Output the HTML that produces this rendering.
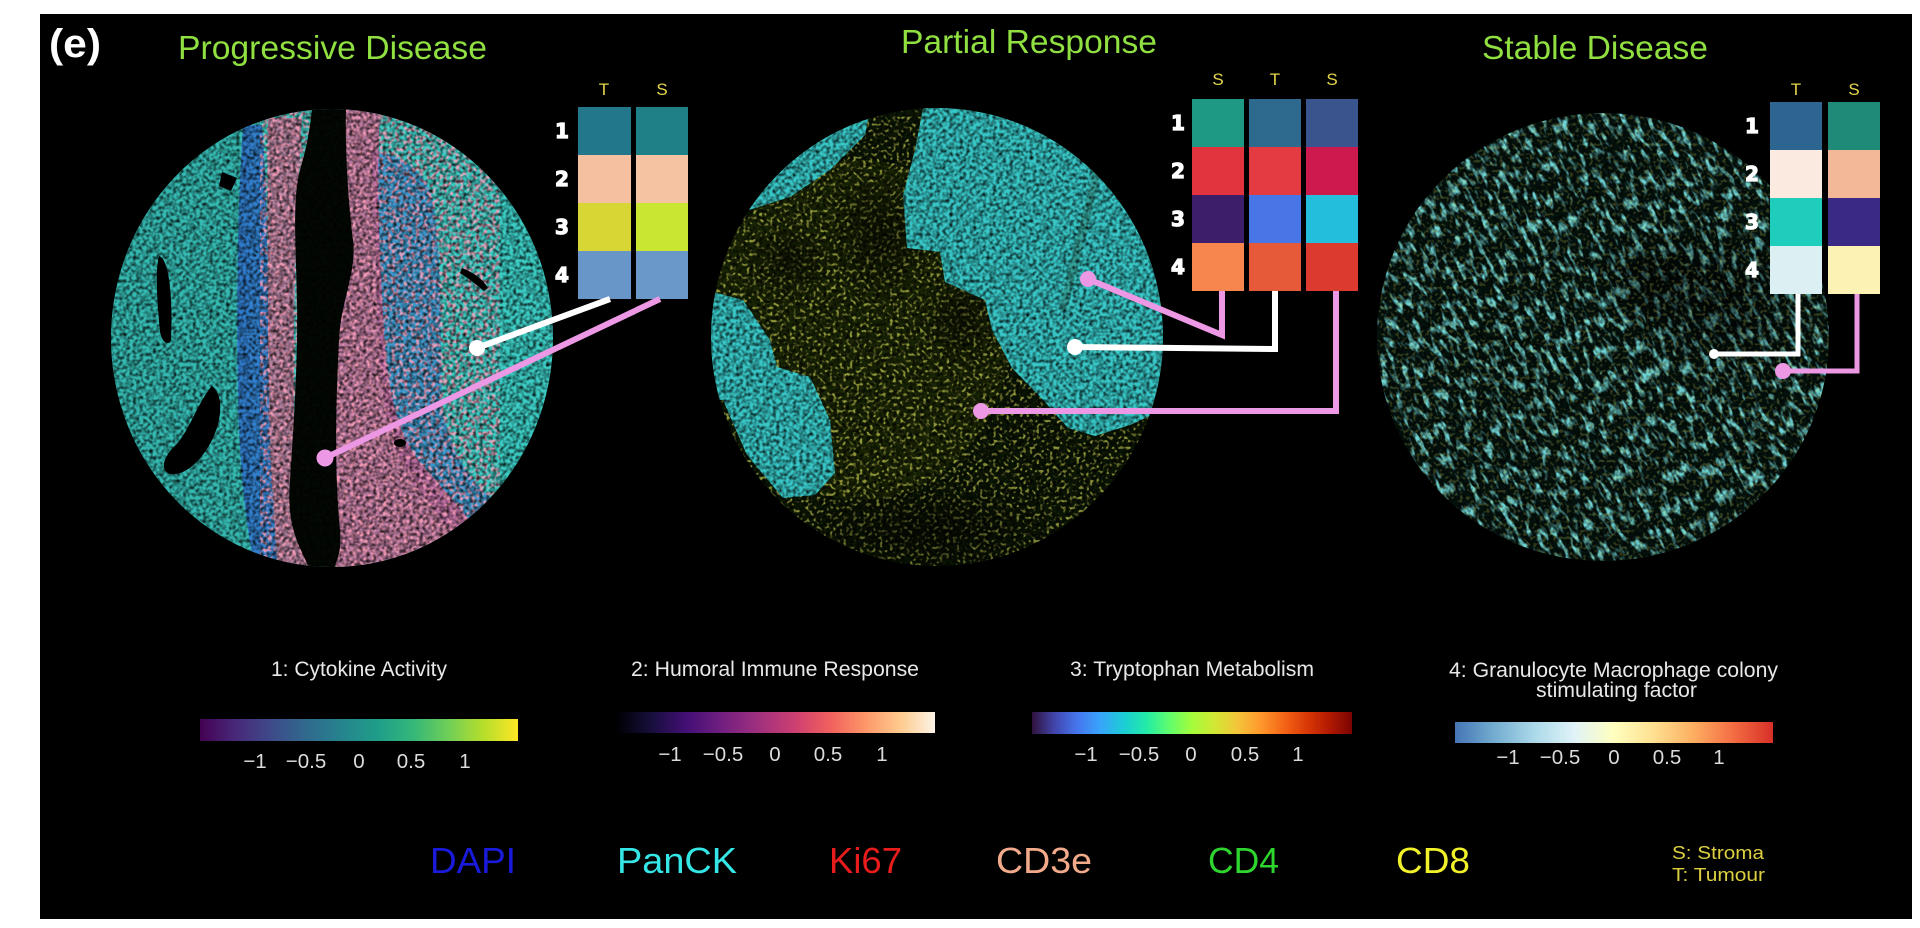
<!DOCTYPE html>
<html><head><meta charset="utf-8">
<style>
html,body{margin:0;padding:0;background:#fff;}
svg{display:block;}
text{font-family:"Liberation Sans",Arial,sans-serif;}
</style></head>
<body>
<svg width="1920" height="928" viewBox="0 0 1920 928" xmlns="http://www.w3.org/2000/svg">
<defs>
  <linearGradient id="viridis" x1="0" x2="1" y1="0" y2="0">
    <stop offset="0" stop-color="#440154"/><stop offset="0.11" stop-color="#482878"/>
    <stop offset="0.22" stop-color="#3e4989"/><stop offset="0.33" stop-color="#31688e"/>
    <stop offset="0.44" stop-color="#26828e"/><stop offset="0.56" stop-color="#1f9e89"/>
    <stop offset="0.67" stop-color="#35b779"/><stop offset="0.78" stop-color="#6ece58"/>
    <stop offset="0.89" stop-color="#b5de2b"/><stop offset="1" stop-color="#fde725"/>
  </linearGradient>
  <linearGradient id="magma" x1="0" x2="1" y1="0" y2="0">
    <stop offset="0" stop-color="#000004"/><stop offset="0.11" stop-color="#180f3d"/>
    <stop offset="0.22" stop-color="#440f76"/><stop offset="0.33" stop-color="#721f81"/>
    <stop offset="0.44" stop-color="#9e2f7f"/><stop offset="0.56" stop-color="#cd4071"/>
    <stop offset="0.67" stop-color="#f1605d"/><stop offset="0.78" stop-color="#fd9668"/>
    <stop offset="0.89" stop-color="#feca8d"/><stop offset="1" stop-color="#fcf3e6"/>
  </linearGradient>
  <linearGradient id="turbo" x1="0" x2="1" y1="0" y2="0">
    <stop offset="0" stop-color="#30123b"/><stop offset="0.07" stop-color="#4145ab"/>
    <stop offset="0.14" stop-color="#4675ed"/><stop offset="0.21" stop-color="#39a2fc"/>
    <stop offset="0.29" stop-color="#1bcfd4"/><stop offset="0.36" stop-color="#24eca6"/>
    <stop offset="0.43" stop-color="#61fc6c"/><stop offset="0.5" stop-color="#a4fc3b"/>
    <stop offset="0.57" stop-color="#d1e834"/><stop offset="0.64" stop-color="#f3c63a"/>
    <stop offset="0.71" stop-color="#fe9b2d"/><stop offset="0.79" stop-color="#f36315"/>
    <stop offset="0.86" stop-color="#d93806"/><stop offset="0.93" stop-color="#b11901"/>
    <stop offset="1" stop-color="#7a0403"/>
  </linearGradient>
  <linearGradient id="rdylbu" x1="0" x2="1" y1="0" y2="0">
    <stop offset="0" stop-color="#4575b4"/><stop offset="0.125" stop-color="#74add1"/>
    <stop offset="0.25" stop-color="#abd9e9"/><stop offset="0.375" stop-color="#e0f3f8"/>
    <stop offset="0.5" stop-color="#ffffbf"/><stop offset="0.625" stop-color="#fee090"/>
    <stop offset="0.75" stop-color="#fdae61"/><stop offset="0.875" stop-color="#f46d43"/>
    <stop offset="1" stop-color="#d73027"/>
  </linearGradient>

  <clipPath id="c1"><ellipse cx="332" cy="338" rx="221" ry="229"/></clipPath>
  <clipPath id="c2"><ellipse cx="937" cy="337" rx="226" ry="229"/></clipPath>
  <clipPath id="c3"><ellipse cx="1603" cy="337" rx="226" ry="224"/></clipPath>

  <filter id="grain" x="0" y="0" width="1" height="1">
    <feTurbulence type="fractalNoise" baseFrequency="0.3" numOctaves="2" seed="2"/>
    <feGaussianBlur stdDeviation="0.6"/>
    <feColorMatrix type="matrix" values="0 0 0 0 0  0 0 0 0 0  0 0 0 0 0  2.2 0 0 0 -0.85"/>
  </filter>
  <filter id="speckY" x="0" y="0" width="1" height="1">
    <feTurbulence type="fractalNoise" baseFrequency="0.3" numOctaves="1" seed="5"/>
    <feColorMatrix type="matrix" values="0 0 0 0 0.80  0 0 0 0 0.82  0 0 0 0 0.12  8 0 0 0 -4.3"/>
  </filter>
  <filter id="speckP" x="0" y="0" width="1" height="1">
    <feTurbulence type="fractalNoise" baseFrequency="0.25" numOctaves="1" seed="9"/>
    <feColorMatrix type="matrix" values="0 0 0 0 1.0  0 0 0 0 0.35  0 0 0 0 0.5  7 0 0 0 -3.3"/>
  </filter>
  <filter id="strand" x="0" y="0" width="1" height="1">
    <feTurbulence type="fractalNoise" baseFrequency="0.18 0.07" numOctaves="2" seed="11"/>
    <feColorMatrix type="matrix" values="0 0 0 0 0.16  0 0 0 0 0.66  0 0 0 0 0.66  5 0 0 0 -2.5"/>
  </filter>
  <radialGradient id="darkspot">
    <stop offset="0" stop-color="#000" stop-opacity="0.55"/>
    <stop offset="1" stop-color="#000" stop-opacity="0"/>
  </radialGradient>
</defs>

<!-- black panel -->
<rect x="40" y="14" width="1872" height="905" fill="#000"/>

<!-- ============ Tissue 1: Progressive Disease ============ -->
<g clip-path="url(#c1)">
  <rect x="100" y="100" width="470" height="480" fill="#3cccc4"/>
  <rect x="100" y="100" width="150" height="480" fill="#2ea8a0" opacity="0.5"/>
  <path d="M243,125 C238,200 236,300 238,400 C240,470 245,520 255,570 L278,570 C272,500 268,420 268,330 C268,240 266,170 262,125 Z" fill="#2d5fd2" opacity="0.7"/>
  <path d="M268,118 L302,118 C297,200 293,300 294,400 C295,470 300,520 312,570 L278,570 C272,500 268,420 268,330 C268,240 267,170 268,118 Z" fill="#d8608a" opacity="0.72"/>
  <path d="M372,150 C400,155 428,170 434,205 C442,265 440,330 442,400 C447,450 472,485 500,505 L480,560 C440,520 405,480 392,440 C380,400 378,330 376,260 Z" fill="#3a58d6" opacity="0.45"/>
  <path d="M345,108 L380,112 C376,200 380,260 384,330 C388,400 400,440 425,468 C445,490 470,520 485,540 L420,575 L336,575 C334,500 334,420 336,340 C338,300 356,270 352,240 C348,200 345,150 345,108 Z" fill="#e05c90" opacity="0.75"/>
  <rect x="260" y="110" width="240" height="470" filter="url(#speckP)" opacity="0.8"/>
  <path d="M312,108 L346,108 C345,150 348,200 353,240 C357,272 341,300 339,340 C336,400 334,470 340,530 C342,552 336,566 330,575 L312,575 C300,545 286,530 290,480 C294,420 298,360 297,300 C296,250 292,200 300,170 C306,150 310,130 312,108 Z" fill="#030803"/>
  <path d="M159,256 C168,258 173,290 171,340 C169,346 162,343 160,332 C157,300 155,270 159,256 Z" fill="#000"/>
  <path d="M212,386 C224,395 222,420 212,440 C202,460 186,476 170,474 C159,470 164,456 175,446 C190,430 199,400 212,386 Z" fill="#000"/>
  <path d="M222,172 L237,178 L231,191 L219,186 Z" fill="#000"/>
  <path d="M462,268 C472,272 482,278 488,288 L484,291 C476,284 468,278 460,273 Z" fill="#000"/>
  <ellipse cx="400" cy="443" rx="6" ry="4" fill="#000"/>
  <rect x="100" y="100" width="470" height="480" filter="url(#grain)"/>
</g>

<!-- ============ Tissue 2: Partial Response ============ -->
<g clip-path="url(#c2)">
  <rect x="700" y="100" width="480" height="480" fill="#0b1604"/>
  <ellipse cx="860" cy="330" rx="150" ry="170" fill="#3a4a08" opacity="0.3"/>
  <rect x="700" y="100" width="480" height="480" filter="url(#speckY)" opacity="0.6"/>
  <ellipse cx="880" cy="235" rx="55" ry="70" fill="url(#darkspot)"/>
  <ellipse cx="790" cy="260" rx="45" ry="40" fill="url(#darkspot)"/>
  <ellipse cx="930" cy="530" rx="140" ry="50" fill="url(#darkspot)"/>
  <ellipse cx="960" cy="320" rx="40" ry="50" fill="url(#darkspot)"/>
  <path d="M700,222 L733,215 L790,197 L830,170 L865,135 L872,100 L700,100 Z" fill="#38c6c6"/>
  <path d="M925,98 L915,150 L903,195 L907,248 L940,252 L945,282 L985,300 L992,330 L1012,368 L1045,402 L1068,428 L1095,436 L1130,425 L1185,400 L1185,98 Z" fill="#38c6c6"/>
  <path d="M1100,160 L1063,310" stroke="#2a4a30" stroke-width="8" opacity="0.3"/>
  <path d="M700,290 L713,292 L743,300 L770,340 L777,367 L810,377 L830,420 L835,473 L815,495 L783,498 L747,455 L723,400 L700,400 Z" fill="#38c6c6"/>
  <rect x="700" y="100" width="480" height="480" filter="url(#grain)"/>
</g>

<!-- ============ Tissue 3: Stable Disease ============ -->
<g clip-path="url(#c3)">
  <rect x="1370" y="105" width="470" height="470" fill="#04120e"/>
  <g transform="rotate(-30 1603 337)">
    <rect x="1250" y="-20" width="710" height="720" fill="#000" filter="url(#strand)"/>
  </g>
  <ellipse cx="1720" cy="300" rx="110" ry="90" fill="url(#darkspot)"/>
  <ellipse cx="1650" cy="280" rx="60" ry="50" fill="url(#darkspot)"/>
  <rect x="1370" y="105" width="470" height="470" filter="url(#grain)" opacity="0.8"/>
  <rect x="1370" y="105" width="470" height="470" filter="url(#speckY)" opacity="0.2"/>
</g>

<!-- ============ Titles ============ -->
<text x="49" y="57" font-size="40" font-weight="bold" fill="#fff" textLength="52" lengthAdjust="spacingAndGlyphs">(e)</text>
<text x="178" y="59" font-size="33" fill="#8fe040" textLength="309" lengthAdjust="spacingAndGlyphs">Progressive Disease</text>
<text x="901" y="53" font-size="33" fill="#8fe040" textLength="256" lengthAdjust="spacingAndGlyphs">Partial Response</text>
<text x="1482" y="59" font-size="33" fill="#8fe040" textLength="226" lengthAdjust="spacingAndGlyphs">Stable Disease</text>

<!-- ============ Heatmap 1 ============ -->
<g font-size="17" fill="#e6d84a" text-anchor="middle">
  <text x="604" y="95">T</text><text x="662" y="95">S</text>
</g>
<rect x="578" y="107" width="53" height="48" fill="#22788a"/>
<rect x="578" y="155" width="53" height="48" fill="#f4c09f"/>
<rect x="578" y="203" width="53" height="48" fill="#d8d634"/>
<rect x="578" y="251" width="53" height="48" fill="#6996c8"/>
<rect x="636" y="107" width="52" height="48" fill="#1f8088"/>
<rect x="636" y="155" width="52" height="48" fill="#f5c2a2"/>
<rect x="636" y="203" width="52" height="48" fill="#c8e632"/>
<rect x="636" y="251" width="52" height="48" fill="#6a98c9"/>
<g font-weight="bold" font-size="20" fill="#fff" stroke="#fff" stroke-width="1.2" text-anchor="middle">
  <text x="562" y="138" style="font-family:'DejaVu Sans',sans-serif">1</text>
  <text x="562" y="186" style="font-family:'DejaVu Sans',sans-serif">2</text>
  <text x="562" y="234" style="font-family:'DejaVu Sans',sans-serif">3</text>
  <text x="562" y="282" style="font-family:'DejaVu Sans',sans-serif">4</text>
</g>
<line x1="610" y1="299" x2="477" y2="348" stroke="#fff" stroke-width="6"/>
<circle cx="477" cy="348" r="8" fill="#fff"/>
<line x1="660" y1="299" x2="325" y2="458" stroke="#ec98e4" stroke-width="6"/>
<circle cx="325" cy="458" r="8.5" fill="#ec98e4"/>

<!-- ============ Heatmap 2 ============ -->
<g font-size="17" fill="#e6d84a" text-anchor="middle">
  <text x="1218" y="85">S</text><text x="1275" y="85">T</text><text x="1332" y="85">S</text>
</g>
<rect x="1192" y="99" width="52" height="48" fill="#1e9a84"/>
<rect x="1192" y="147" width="52" height="48" fill="#e2343f"/>
<rect x="1192" y="195" width="52" height="48" fill="#3c1e6a"/>
<rect x="1192" y="243" width="52" height="48" fill="#f6854e"/>
<rect x="1249" y="99" width="52" height="48" fill="#2d6a8e"/>
<rect x="1249" y="147" width="52" height="48" fill="#e43a42"/>
<rect x="1249" y="195" width="52" height="48" fill="#4876e6"/>
<rect x="1249" y="243" width="52" height="48" fill="#e65a3a"/>
<rect x="1306" y="99" width="52" height="48" fill="#3a548e"/>
<rect x="1306" y="147" width="52" height="48" fill="#cc1a4e"/>
<rect x="1306" y="195" width="52" height="48" fill="#22bedc"/>
<rect x="1306" y="243" width="52" height="48" fill="#dc3a2e"/>
<g font-weight="bold" font-size="20" fill="#fff" stroke="#fff" stroke-width="1.2" text-anchor="middle">
  <text x="1178" y="130" style="font-family:'DejaVu Sans',sans-serif">1</text>
  <text x="1178" y="178" style="font-family:'DejaVu Sans',sans-serif">2</text>
  <text x="1178" y="226" style="font-family:'DejaVu Sans',sans-serif">3</text>
  <text x="1178" y="274" style="font-family:'DejaVu Sans',sans-serif">4</text>
</g>
<polyline points="1222,291 1222,335 1088,279" fill="none" stroke="#ec98e4" stroke-width="6"/>
<circle cx="1088" cy="279" r="8" fill="#ec98e4"/>
<polyline points="1275,291 1275,349 1075,347" fill="none" stroke="#fff" stroke-width="6"/>
<circle cx="1075" cy="347" r="8" fill="#fff"/>
<polyline points="1336,291 1336,411 981,411" fill="none" stroke="#ec98e4" stroke-width="6"/>
<circle cx="981" cy="411" r="8" fill="#ec98e4"/>

<!-- ============ Heatmap 3 ============ -->
<g font-size="17" fill="#e6d84a" text-anchor="middle">
  <text x="1796" y="95">T</text><text x="1854" y="95">S</text>
</g>
<rect x="1770" y="102" width="52" height="48" fill="#2b6590"/>
<rect x="1770" y="150" width="52" height="48" fill="#faeadf"/>
<rect x="1770" y="198" width="52" height="48" fill="#1fcdbd"/>
<rect x="1770" y="246" width="52" height="48" fill="#dcf0f4"/>
<rect x="1828" y="102" width="52" height="48" fill="#1f8a78"/>
<rect x="1828" y="150" width="52" height="48" fill="#f2b897"/>
<rect x="1828" y="198" width="52" height="48" fill="#3a2a86"/>
<rect x="1828" y="246" width="52" height="48" fill="#fcf2b4"/>
<g font-weight="bold" font-size="20" fill="#fff" stroke="#fff" stroke-width="1.2" text-anchor="middle">
  <text x="1752" y="133" style="font-family:'DejaVu Sans',sans-serif">1</text>
  <text x="1752" y="181" style="font-family:'DejaVu Sans',sans-serif">2</text>
  <text x="1752" y="229" style="font-family:'DejaVu Sans',sans-serif">3</text>
  <text x="1752" y="277" style="font-family:'DejaVu Sans',sans-serif">4</text>
</g>
<polyline points="1798,294 1798,354 1714,354" fill="none" stroke="#fff" stroke-width="5"/>
<circle cx="1714" cy="354" r="5" fill="#fff"/>
<polyline points="1857,294 1857,371 1783,371" fill="none" stroke="#ec98e4" stroke-width="5"/>
<circle cx="1783" cy="371" r="8" fill="#ec98e4"/>

<!-- ============ Colorbars ============ -->
<g font-size="21" fill="#e8e8e8">
  <text x="271" y="676" textLength="176" lengthAdjust="spacingAndGlyphs">1: Cytokine Activity</text>
  <text x="631" y="676" textLength="288" lengthAdjust="spacingAndGlyphs">2: Humoral Immune Response</text>
  <text x="1070" y="676" textLength="244" lengthAdjust="spacingAndGlyphs">3: Tryptophan Metabolism</text>
  <text x="1449" y="677" textLength="329" lengthAdjust="spacingAndGlyphs">4: Granulocyte Macrophage colony</text>
  <text x="1536" y="697" textLength="161" lengthAdjust="spacingAndGlyphs">stimulating factor</text>
</g>
<rect x="200" y="719" width="318" height="22" fill="url(#viridis)"/>
<rect x="617" y="712" width="318" height="21" fill="url(#magma)"/>
<rect x="1032" y="712" width="320" height="22" fill="url(#turbo)"/>
<rect x="1455" y="722" width="318" height="21" fill="url(#rdylbu)"/>

<g font-size="20.5" fill="#dcdcdc" text-anchor="middle">
  <text x="255" y="768">−1</text><text x="306" y="768">−0.5</text><text x="359" y="768">0</text><text x="411" y="768">0.5</text><text x="465" y="768">1</text>
  <text x="670" y="761">−1</text><text x="723" y="761">−0.5</text><text x="775" y="761">0</text><text x="828" y="761">0.5</text><text x="882" y="761">1</text>
  <text x="1086" y="761">−1</text><text x="1139" y="761">−0.5</text><text x="1191" y="761">0</text><text x="1245" y="761">0.5</text><text x="1298" y="761">1</text>
  <text x="1508" y="764">−1</text><text x="1560" y="764">−0.5</text><text x="1614" y="764">0</text><text x="1667" y="764">0.5</text><text x="1719" y="764">1</text>
</g>

<!-- ============ Legend ============ -->
<g font-size="36">
  <text x="430" y="873" fill="#1a1adc" textLength="86" lengthAdjust="spacingAndGlyphs">DAPI</text>
  <text x="617" y="873" fill="#35e6e6" textLength="120" lengthAdjust="spacingAndGlyphs">PanCK</text>
  <text x="829" y="873" fill="#e81c1c" textLength="73" lengthAdjust="spacingAndGlyphs">Ki67</text>
  <text x="996" y="873" fill="#f2aa8a" textLength="96" lengthAdjust="spacingAndGlyphs">CD3e</text>
  <text x="1208" y="873" fill="#2ed52e" textLength="71" lengthAdjust="spacingAndGlyphs">CD4</text>
  <text x="1396" y="873" fill="#f2f22a" textLength="74" lengthAdjust="spacingAndGlyphs">CD8</text>
</g>
<g font-size="18" fill="#dcd040">
  <text x="1672" y="859" textLength="92" lengthAdjust="spacingAndGlyphs">S: Stroma</text>
  <text x="1672" y="881" textLength="93" lengthAdjust="spacingAndGlyphs">T: Tumour</text>
</g>
</svg>
</body></html>
